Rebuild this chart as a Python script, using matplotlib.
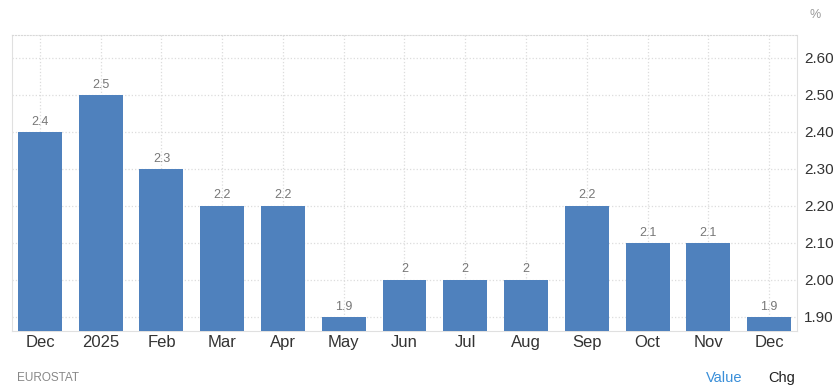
import matplotlib
matplotlib.use("Agg")
import matplotlib.pyplot as plt
import numpy as np

months = ["Dec", "2025", "Feb", "Mar", "Apr", "May", "Jun", "Jul", "Aug", "Sep", "Oct", "Nov", "Dec"]
values = [2.4, 2.5, 2.3, 2.2, 2.2, 1.9, 2.0, 2.0, 2.0, 2.2, 2.1, 2.1, 1.9]
labels = ["2.4", "2.5", "2.3", "2.2", "2.2", "1.9", "2", "2", "2", "2.2", "2.1", "2.1", "1.9"]
yticks = [1.9, 2.0, 2.1, 2.2, 2.3, 2.4, 2.5, 2.6]

plt.rcParams["font.family"] = ["Liberation Sans", "DejaVu Sans"]

fig = plt.figure(figsize=(8.4, 3.9), dpi=100)
ax = fig.add_axes([12 / 840, 1 - 331 / 390, 785 / 840, 296 / 390])

x = np.arange(len(months))
bottom = 1.862
ax.bar(x, np.array(values) - bottom, bottom=bottom, width=0.724, color="#4f81bd", zorder=3)
for xi, v, lab in zip(x, values, labels):
    ax.text(xi, v + 0.012, lab, ha="center", va="bottom", fontsize=9, color="#777777")

ax.set_xlim(-0.46, len(months) - 1 + 0.46)
ax.set_ylim(bottom, 2.662)
ax.set_xticks(x)
ax.set_xticklabels(months)
ax.set_yticks(yticks)
ax.set_yticklabels([f"{t:.2f}" for t in yticks])
ax.yaxis.tick_right()
ax.tick_params(axis="both", length=0, labelsize=11, colors="#333333")
ax.tick_params(axis="x", labelsize=12, pad=3)
ax.tick_params(axis="y", pad=5)

ax.grid(True, color="#dcdcdc", linestyle=":", linewidth=0.9, zorder=0)
for side in ["left", "right", "bottom"]:
    ax.spines[side].set_color("#e0e0e0")
ax.spines["top"].set_linestyle(":")
ax.spines["top"].set_color("#d8d8d8")

fig.text(815 / 840, 1 - 15 / 390, "%", fontsize=9, color="#999999", ha="center", va="center")
fig.text(17 / 840, 1 - 378 / 390, "EUROSTAT", fontsize=8.5, color="#888888", ha="left", va="center")
fig.text(742 / 840, 1 - 378 / 390, "Value", fontsize=10.5, color="#3a8fd9", ha="right", va="center")
fig.text(768 / 840, 1 - 378 / 390, "Chg", fontsize=10.5, color="#222222", ha="left", va="center")

fig.savefig("out.png", dpi=100)
